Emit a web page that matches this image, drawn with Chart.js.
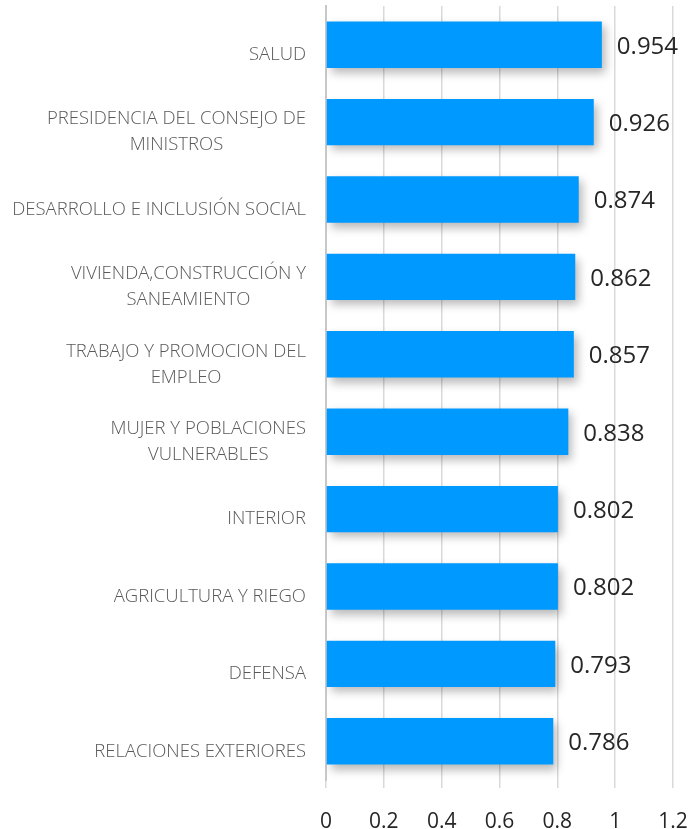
<!DOCTYPE html>
<html>
<head>
<meta charset="utf-8">
<script src="https://cdn.jsdelivr.net/npm/chart.js@4.4.0/dist/chart.umd.min.js"></script>
<style>
  html, body { margin: 0; padding: 0; background: #fff; }
  #wrap { width: 691px; height: 829px; }
</style>
</head>
<body>
<div id="wrap"><canvas id="grafico"></canvas></div>
<script>
// categorias (lineas ya partidas como en la imagen)
const categorias = [
  ['SALUD'],
  ['PRESIDENCIA DEL CONSEJO DE', 'MINISTROS'],
  ['DESARROLLO E INCLUSIÓN SOCIAL'],
  ['VIVIENDA,CONSTRUCCIÓN Y', 'SANEAMIENTO'],
  ['TRABAJO Y PROMOCION DEL', 'EMPLEO'],
  ['MUJER Y POBLACIONES', 'VULNERABLES'],
  ['INTERIOR'],
  ['AGRICULTURA Y RIEGO'],
  ['DEFENSA'],
  ['RELACIONES EXTERIORES']
];
const valores = [0.954, 0.926, 0.874, 0.862, 0.857, 0.838, 0.802, 0.802, 0.793, 0.786];
const ticksX = [0, 0.2, 0.4, 0.6, 0.8, 1, 1.2];

const fuente = '"Open Sans", "Liberation Sans", sans-serif';

// sombra de las barras
const sombra = {
  id: 'sombra',
  beforeDatasetsDraw(chart) {
    const ctx = chart.ctx;
    ctx.save();
    ctx.shadowColor = 'rgba(0,0,0,0.28)';
    ctx.shadowBlur = 9;
    ctx.shadowOffsetX = 4;
    ctx.shadowOffsetY = 5;
  },
  afterDatasetsDraw(chart) {
    chart.ctx.restore();
  }
};

// etiquetas de valor, de categoria (centradas por bloque) y del eje x
const etiquetas = {
  id: 'etiquetas',
  afterDraw(chart) {
    const ctx = chart.ctx;
    const meta = chart.getDatasetMeta(0);
    ctx.save();
    ctx.font = '24px ' + fuente;
    ctx.fillStyle = '#262626';
    ctx.textAlign = 'left';
    ctx.textBaseline = 'middle';
    meta.data.forEach((bar, i) => {
      ctx.fillText(valores[i].toFixed(3), bar.x + 15, bar.y + 2);
    });

    // eje x
    const xScale = chart.scales.x;
    ctx.font = '21px ' + fuente;
    ctx.textAlign = 'center';
    ticksX.forEach(v => {
      ctx.fillText(String(v), xScale.getPixelForValue(v), 822);
    });

    const yScale = chart.scales.y;
    ctx.font = '300 18.5px ' + fuente;
    ctx.fillStyle = '#595959';
    const derecha = 306;
    const alto = 26;
    categorias.forEach((lineas, i) => {
      const ancho = Math.max(...lineas.map(l => ctx.measureText(l).width));
      const cx = derecha - ancho / 2;
      const yc = yScale.getPixelForValue(i) + 10;
      const y0 = yc - (lineas.length - 1) * alto / 2;
      lineas.forEach((l, k) => ctx.fillText(l, cx, y0 + k * alto));
    });
    ctx.restore();
  }
};

new Chart(document.getElementById('grafico'), {
  type: 'bar',
  data: {
    labels: categorias,
    datasets: [{
      data: valores,
      backgroundColor: '#0099ff',
      categoryPercentage: 0.6,
      barPercentage: 1
    }]
  },
  options: {
    indexAxis: 'y',
    responsive: true,
    maintainAspectRatio: false,
    animation: false,
    layout: { padding: { left: 0, right: 18, top: 6, bottom: 41 } },
    plugins: { legend: { display: false }, tooltip: { enabled: false } },
    scales: {
      x: {
        min: 0,
        max: 1.2,
        afterBuildTicks(scale) {
          scale.ticks = ticksX.map(v => ({ value: v }));
        },
        ticks: { display: false },
        grid: { color: '#d9d9d9', lineWidth: 1.5, tickLength: 8, drawOnChartArea: true },
        border: { display: false }
      },
      y: {
        ticks: { display: false },
        grid: { display: false },
        border: { color: '#c8c8c8', width: 2 },
        afterFit(scale) { scale.width = 326; }
      }
    }
  },
  plugins: [sombra, etiquetas]
});
</script>
</body>
</html>
